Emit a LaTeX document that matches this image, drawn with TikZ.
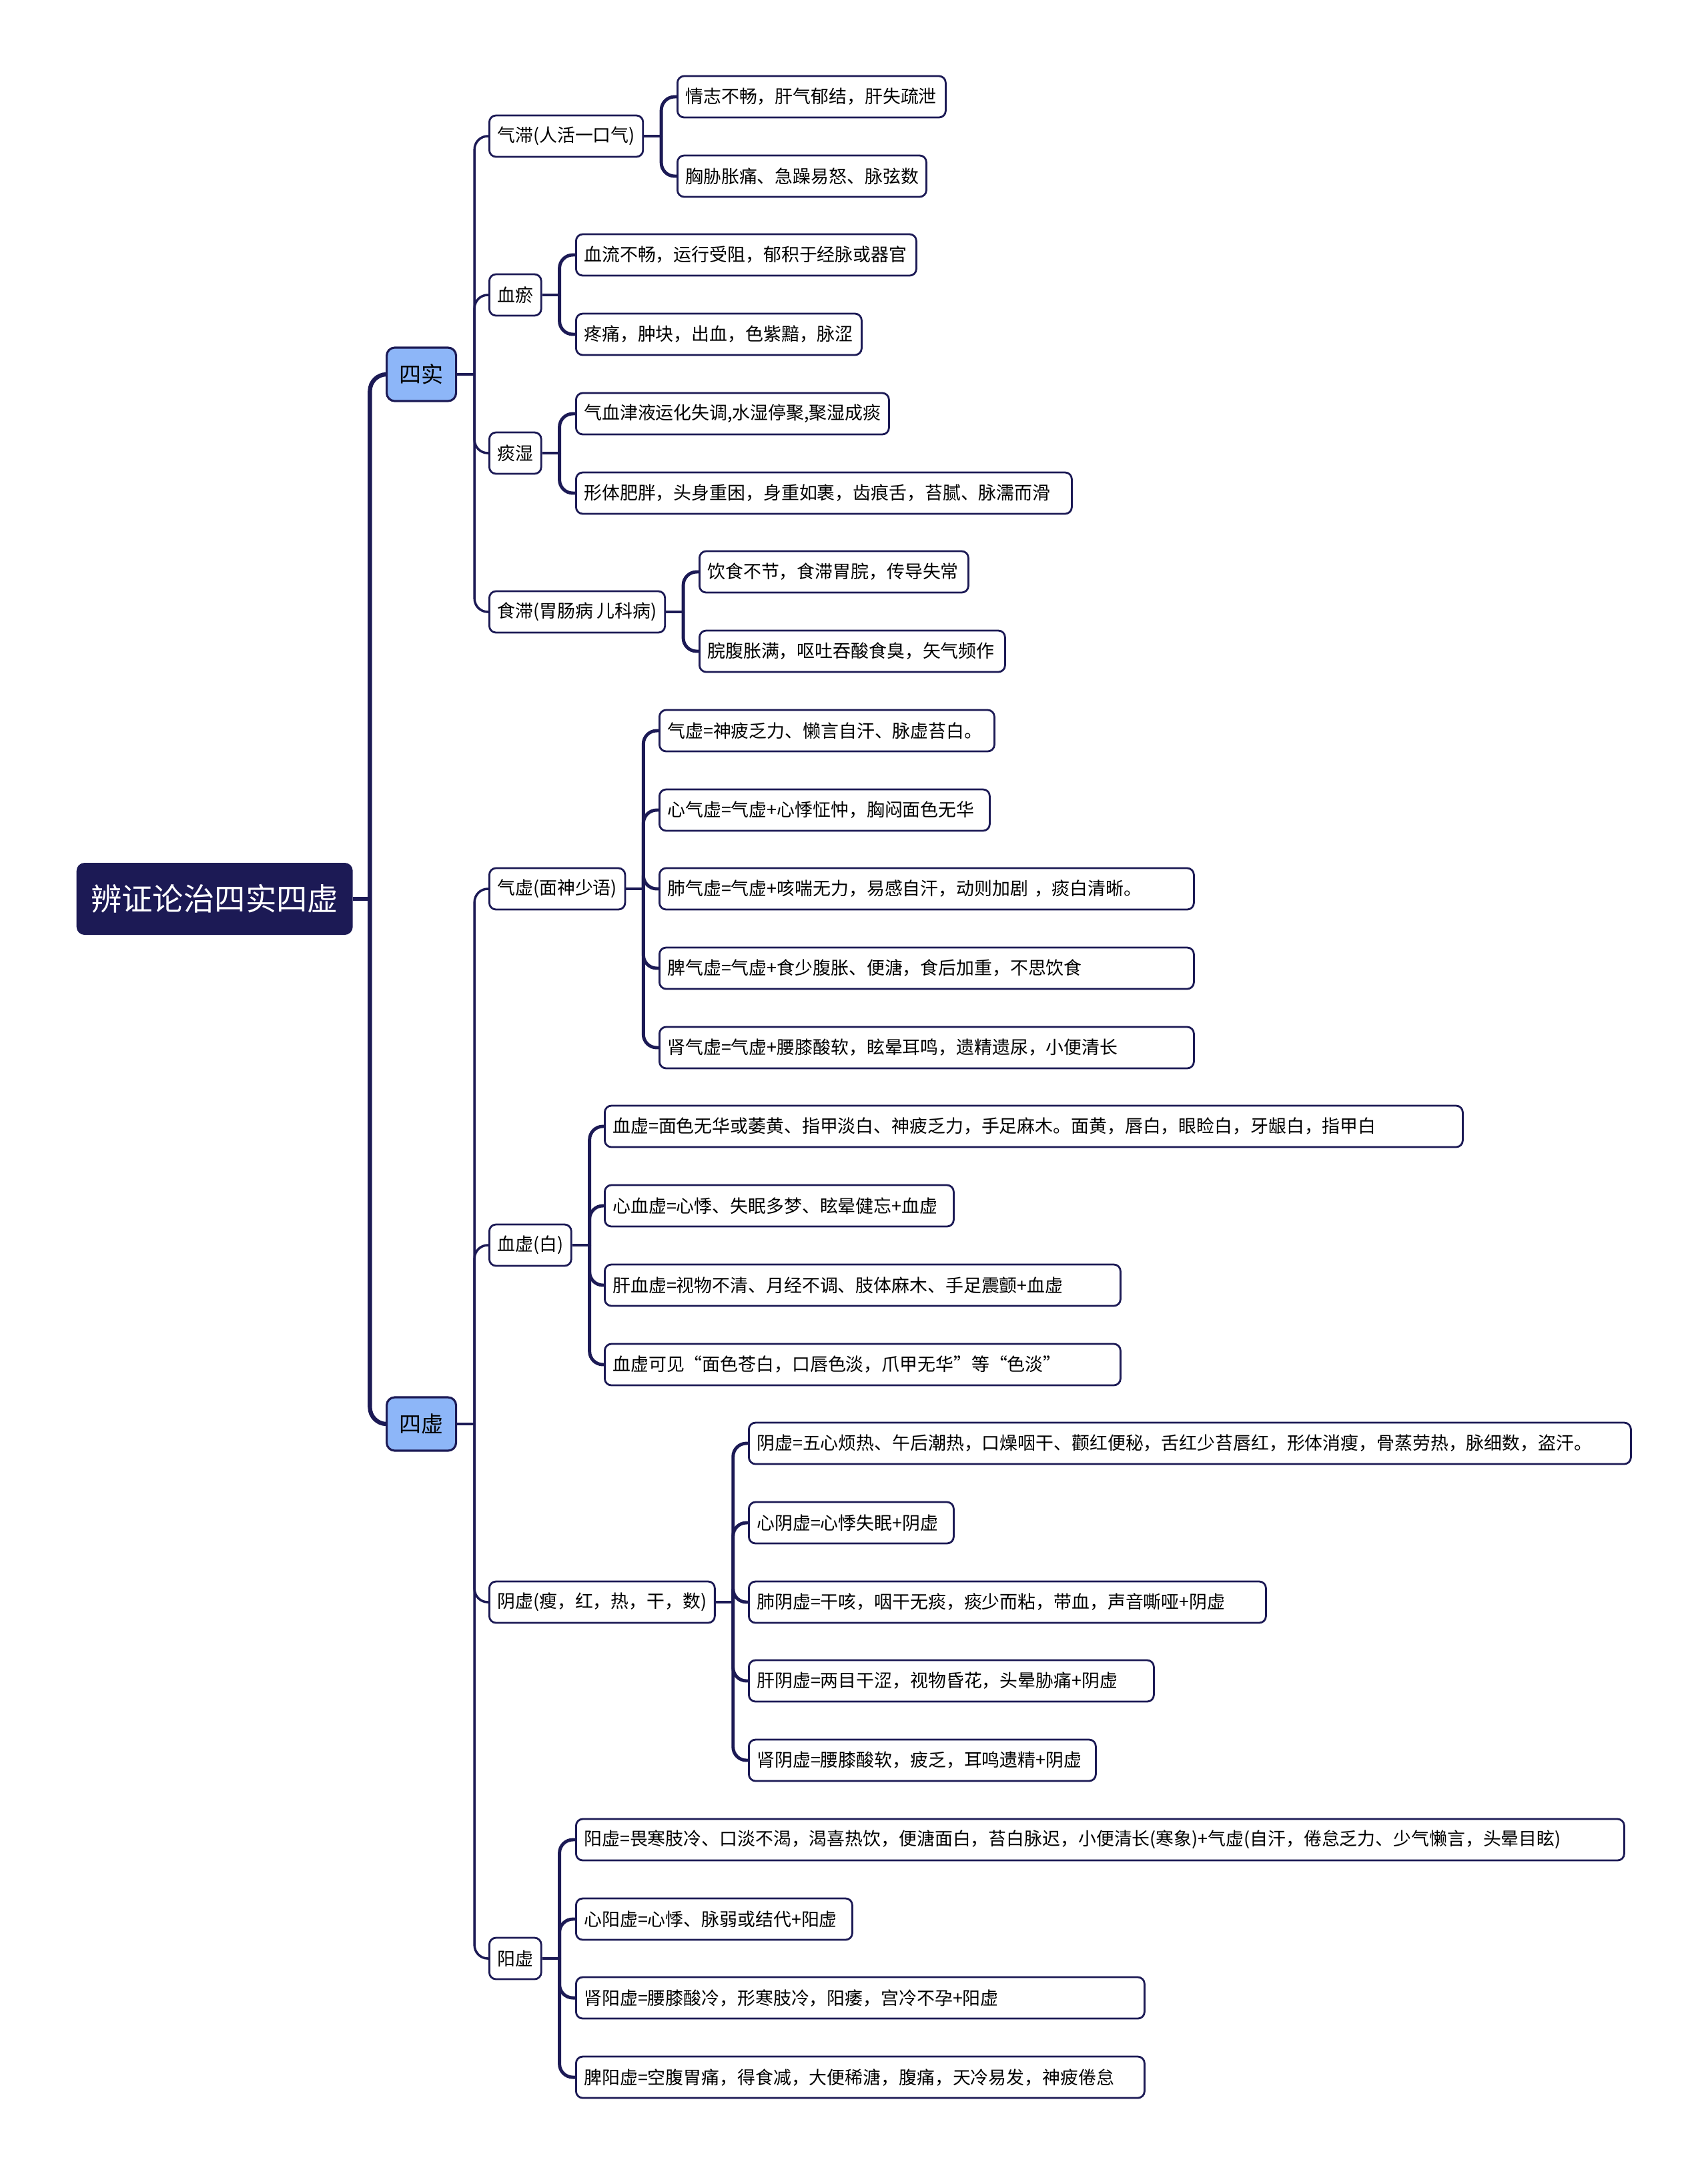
\documentclass[tikz,border=0pt]{standalone}
\usepackage{fontspec}
\newfontfamily\zhfont{Noto Sans CJK SC}

\definecolor{navy}{HTML}{1C1A55}
\definecolor{skyblue}{HTML}{8DB6F8}

\tikzset{
  box/.style={draw=navy, line width=0.8pt, rounded corners=0.1cm, fill=white,
    font=\zhfont\fontsize{7.65}{9}\selectfont, minimum height=0.62cm,
    inner xsep=0.12cm, inner ysep=0pt},
  sub/.style={box, anchor=west},
  leaf/.style={box, anchor=west, text width=#1, align=left},
  topic/.style={box, anchor=west, fill=skyblue, line width=0.9pt,
    rounded corners=0.12cm, minimum width=1.04cm, minimum height=0.8cm,
    font=\zhfont\fontsize{9.4}{11}\selectfont},
  rootbox/.style={fill=navy, text=white, rounded corners=0.12cm, anchor=west,
    minimum width=4.14cm, minimum height=1.08cm,
    font=\zhfont\fontsize{13.2}{16}\selectfont},
  trunk/.style={draw=navy, line width=1.8pt, rounded corners=0.25cm},
  branch/.style={draw=navy, line width=1.0pt, rounded corners=0.2cm},
  stub/.style={draw=navy, line width=0.9pt},
  twig/.style={draw=navy, line width=1.4pt, rounded corners=0.2cm},
}

\begin{document}
\begin{tikzpicture}
\useasboundingbox (0,0) rectangle (25.6,-32.58);

% root and the two halves
\node[rootbox] (root) at (1.14,-13.47) {辨证论治四实四虚};
\node[topic] (shi) at (5.78,-5.61) {四实};
\node[topic] (xu) at (5.78,-21.34) {四虚};
\draw[trunk] (root.east) -- ++(0.25,0) coordinate (rj);
\draw[trunk] (rj) |- (shi.west);
\draw[trunk] (rj) |- (xu.west);

% 四实
\node[sub] (qz) at (7.32,-2.04) {气滞(人活一口气)};
\node[sub] (xy) at (7.32,-4.42) {血瘀};
\node[sub] (ts) at (7.32,-6.79) {痰湿};
\node[sub] (sz) at (7.32,-9.17) {食滞(胃肠病 儿科病)};
\draw[branch] (shi.east) -- ++(0.26,0) coordinate (shij);
\draw[branch] (shij) |- (qz.west);
\draw[branch] (shij) |- (xy.west);
\draw[branch] (shij) |- (ts.west);
\draw[branch] (shij) |- (sz.west);

\node[leaf=3.78cm] (qz1) at (10.14,-1.45) {情志不畅，肝气郁结，肝失疏泄};
\node[leaf=3.49cm] (qz2) at (10.14,-2.64) {胸胁胀痛、急躁易怒、脉弦数};
\draw[stub] (qz.east) -- ++(0.26,0) coordinate (qzj);
\draw[twig] (qzj) |- (qz1.west);
\draw[twig] (qzj) |- (qz2.west);

\node[leaf=4.86cm] (xy1) at (8.62,-3.82) {血流不畅，运行受阻，郁积于经脉或器官};
\node[leaf=4.04cm] (xy2) at (8.62,-5.01) {疼痛，肿块，出血，色紫黯，脉涩};
\draw[stub] (xy.east) -- ++(0.26,0) coordinate (xyj);
\draw[twig] (xyj) |- (xy1.west);
\draw[twig] (xyj) |- (xy2.west);

\node[leaf=4.45cm] (ts1) at (8.62,-6.20) {气血津液运化失调,水湿停聚,聚湿成痰};
\node[leaf=7.19cm] (ts2) at (8.62,-7.39) {形体肥胖，头身重困，身重如裹，齿痕舌，苔腻、脉濡而滑};
\draw[stub] (ts.east) -- ++(0.26,0) coordinate (tsj);
\draw[twig] (tsj) |- (ts1.west);
\draw[twig] (tsj) |- (ts2.west);

\node[leaf=3.79cm] (sz1) at (10.47,-8.57) {饮食不节，食滞胃脘，传导失常};
\node[leaf=4.34cm] (sz2) at (10.47,-9.76) {脘腹胀满，呕吐吞酸食臭，矢气频作};
\draw[stub] (sz.east) -- ++(0.26,0) coordinate (szj);
\draw[twig] (szj) |- (sz1.west);
\draw[twig] (szj) |- (sz2.west);

% 四虚
\node[sub] (qx) at (7.32,-13.32) {气虚(面神少语)};
\node[sub] (xx) at (7.32,-18.66) {血虚(白)};
\node[sub] (yx) at (7.32,-24.01) {阴虚(瘦，红，热，干，数)};
\node[sub] (yang) at (7.32,-29.35) {阳虚};
\draw[branch] (xu.east) -- ++(0.26,0) coordinate (xuj);
\draw[branch] (xuj) |- (qx.west);
\draw[branch] (xuj) |- (xx.west);
\draw[branch] (xuj) |- (yx.west);
\draw[branch] (xuj) |- (yang.west);

\node[leaf=4.78cm] (qx1) at (9.87,-10.95) {气虚=神疲乏力、懒言自汗、脉虚苔白。};
\node[leaf=4.71cm] (qx2) at (9.87,-12.14) {心气虚=气虚+心悸怔忡，胸闷面色无华};
\node[leaf=7.77cm] (qx3) at (9.87,-13.32) {肺气虚=气虚+咳喘无力，易感自汗，动则加剧 ，痰白清晰。};
\node[leaf=7.77cm] (qx4) at (9.87,-14.51) {脾气虚=气虚+食少腹胀、便溏，食后加重，不思饮食};
\node[leaf=7.77cm] (qx5) at (9.87,-15.70) {肾气虚=气虚+腰膝酸软，眩晕耳鸣，遗精遗尿，小便清长};
\draw[stub] (qx.east) -- ++(0.26,0) coordinate (qxj);
\draw[twig] (qxj) |- (qx1.west);
\draw[twig] (qxj) |- (qx2.west);
\draw[twig] (qxj) |- (qx3.west);
\draw[twig] (qxj) |- (qx4.west);
\draw[twig] (qxj) |- (qx5.west);

\node[leaf=12.62cm] (xx1) at (9.05,-16.88) {血虚=面色无华或萎黄、指甲淡白、神疲乏力，手足麻木。面黄，唇白，眼睑白，牙龈白，指甲白};
\node[leaf=4.99cm] (xx2) at (9.05,-18.07) {心血虚=心悸、失眠多梦、眩晕健忘+血虚};
\node[leaf=7.49cm] (xx3) at (9.05,-19.26) {肝血虚=视物不清、月经不调、肢体麻木、手足震颤+血虚};
\node[leaf=7.49cm] (xx4) at (9.05,-20.45) {血虚可见“面色苍白，口唇色淡，爪甲无华”等“色淡”};
\draw[stub] (xx.east) -- ++(0.26,0) coordinate (xxj);
\draw[twig] (xxj) |- (xx1.west);
\draw[twig] (xxj) |- (xx2.west);
\draw[twig] (xxj) |- (xx3.west);
\draw[twig] (xxj) |- (xx4.west);

\node[leaf=12.98cm] (yx1) at (11.21,-21.63) {阴虚=五心烦热、午后潮热，口燥咽干、颧红便秘，舌红少苔唇红，形体消瘦，骨蒸劳热，脉细数，盗汗。};
\node[leaf=2.83cm] (yx2) at (11.21,-22.82) {心阴虚=心悸失眠+阴虚};
\node[leaf=7.51cm] (yx3) at (11.21,-24.01) {肺阴虚=干咳，咽干无痰，痰少而粘，带血，声音嘶哑+阴虚};
\node[leaf=5.83cm] (yx4) at (11.21,-25.19) {肝阴虚=两目干涩，视物昏花，头晕胁痛+阴虚};
\node[leaf=4.96cm] (yx5) at (11.21,-26.38) {肾阴虚=腰膝酸软，疲乏，耳鸣遗精+阴虚};
\draw[stub] (yx.east) -- ++(0.26,0) coordinate (yxj);
\draw[twig] (yxj) |- (yx1.west);
\draw[twig] (yxj) |- (yx2.west);
\draw[twig] (yxj) |- (yx3.west);
\draw[twig] (yxj) |- (yx4.west);
\draw[twig] (yxj) |- (yx5.west);

\node[leaf=15.47cm] (yang1) at (8.62,-27.57) {阳虚=畏寒肢冷、口淡不渴，渴喜热饮，便溏面白，苔白脉迟，小便清长(寒象)+气虚(自汗，倦怠乏力、少气懒言，头晕目眩)};
\node[leaf=3.90cm] (yang2) at (8.62,-28.76) {心阳虚=心悸、脉弱或结代+阳虚};
\node[leaf=8.28cm] (yang3) at (8.62,-29.94) {肾阳虚=腰膝酸冷，形寒肢冷，阳痿，宫冷不孕+阳虚};
\node[leaf=8.28cm] (yang4) at (8.62,-31.13) {脾阳虚=空腹胃痛，得食减，大便稀溏，腹痛，天冷易发，神疲倦怠};
\draw[stub] (yang.east) -- ++(0.26,0) coordinate (yangj);
\draw[twig] (yangj) |- (yang1.west);
\draw[twig] (yangj) |- (yang2.west);
\draw[twig] (yangj) |- (yang3.west);
\draw[twig] (yangj) |- (yang4.west);
\end{tikzpicture}
\end{document}
